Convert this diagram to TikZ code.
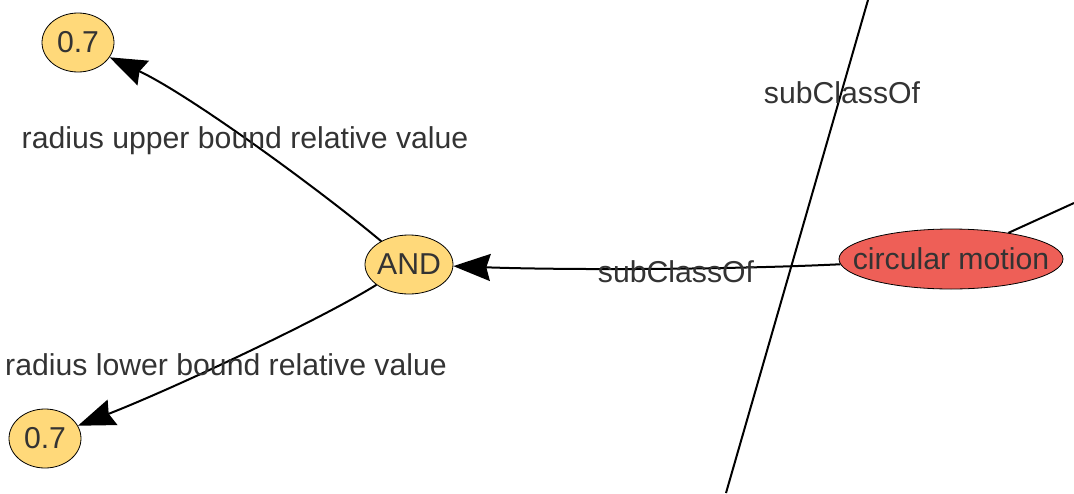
\documentclass[tikz,border=0pt]{standalone}
\usepackage{fontspec}
\setmainfont{Liberation Sans}
\usetikzlibrary{arrows.meta,shapes.geometric}
\definecolor{nodeyellow}{RGB}{255,217,122}
\definecolor{nodered}{RGB}{238,95,87}
\definecolor{txt}{RGB}{51,51,51}
\begin{document}
\begin{tikzpicture}[x=1pt,y=-1pt,
  lbl/.style={text=txt,inner sep=0pt,font=\fontsize{30.2}{34}\selectfont},
  base/.style={ellipse,draw=black,line width=0.8pt,inner sep=0pt},
  val/.style={base,fill=nodeyellow,minimum width=72pt,minimum height=59pt},
  andnode/.style={base,fill=nodeyellow,minimum width=88pt,minimum height=59pt},
  cls/.style={base,fill=nodered,minimum width=224pt,minimum height=60pt},
  edge/.style={line width=2pt,draw=black},
  arr/.style={edge,-{Stealth[length=37pt,width=27pt,inset=4pt]}}]
\useasboundingbox (0,0) rectangle (1074,493);
\node[val,label={[lbl]center:0.7}] (v1) at (78,42.5) {};
\node[andnode,label={[lbl]center:AND}] (and) at (409,264.5) {};
\node[cls,label={[lbl]center:circular motion}] (cm) at (951,259) {};
\node[val,label={[lbl]center:0.7}] (v2) at (45,438.5) {};
\coordinate (ta) at (868,0);
\coordinate (tb) at (726,493);
\coordinate (tc) at (1074,203);
\draw[edge] (ta) -- (tb);
\draw[edge] (cm) -- (tc);
\draw[arr] (and) .. controls (320,190) and (190,95) .. (v1);
\draw[arr] (and) .. controls (320,320) and (170,390) .. (v2);
\draw[arr] (cm) .. controls (720,270) and (560,270) .. (and);
\node[lbl] (l1) at (245,141) {radius upper bound relative value};
\node[lbl] (l2) at (226,365) {radius lower bound relative value};
\node[lbl] (l3) at (676,272) {subClassOf};
\node[lbl] (l4) at (842,93) {subClassOf};
\end{tikzpicture}
\end{document}
